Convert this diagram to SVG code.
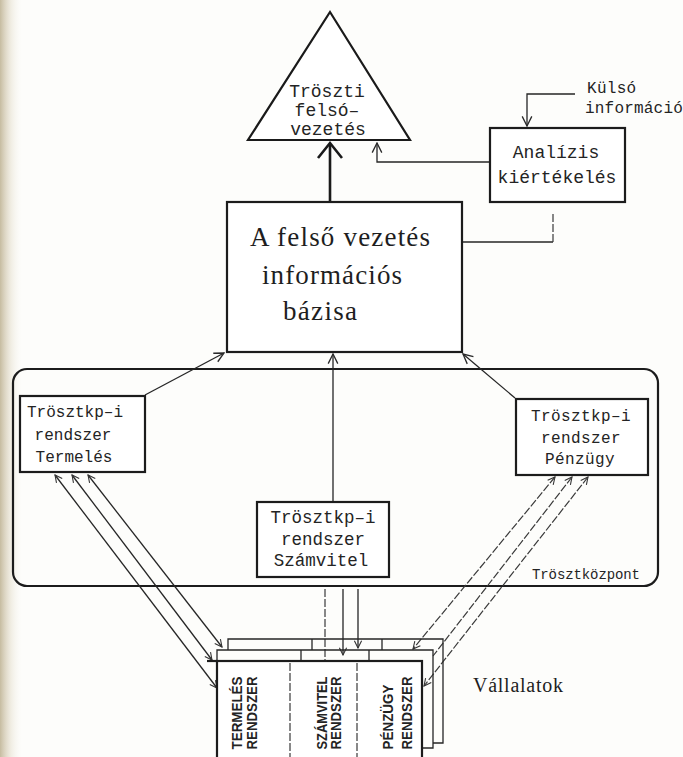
<svg xmlns="http://www.w3.org/2000/svg" width="683" height="757" viewBox="0 0 683 757">
  <defs>
    <linearGradient id="edge" x1="0" x2="1" y1="0" y2="0">
      <stop offset="0" stop-color="#bcb090" stop-opacity="0.85"/>
      <stop offset="0.5" stop-color="#ddd5bf" stop-opacity="0.4"/>
      <stop offset="1" stop-color="#f4f1e8" stop-opacity="0"/>
    </linearGradient>
    <!-- open chevron arrowheads -->
    <marker id="open" viewBox="0 0 10 10" refX="9" refY="5" markerWidth="12" markerHeight="12" markerUnits="userSpaceOnUse" orient="auto-start-reverse">
      <path d="M1,1 L9,5 L1,9" fill="none" stroke="#2a2a2a" stroke-width="1.1"/>
    </marker>
    <marker id="sm" viewBox="0 0 10 10" refX="9" refY="5" markerWidth="9" markerHeight="9" markerUnits="userSpaceOnUse" orient="auto-start-reverse">
      <path d="M1,1 L9,5 L1,9" fill="none" stroke="#333" stroke-width="1.2"/>
    </marker>
  </defs>
  <style>
    .box{fill:#fff;stroke:#1c1c1c;stroke-width:2.2}
    .mono{font-family:"Liberation Mono","DejaVu Sans Mono",monospace;fill:#242424}
    .serif{font-family:"Liberation Serif","DejaVu Serif",serif;fill:#1e1e1e}
    .col{font-family:"Liberation Sans",Arial,sans-serif;font-weight:bold;fill:#232323;font-size:15.5px}
    .ln{fill:none;stroke:#262626;stroke-width:1.3}
    .dash{fill:none;stroke:#3a3a3a;stroke-width:1.2;stroke-dasharray:8 2}
    .mid{text-anchor:middle}
  </style>

  <!-- paper -->
  <rect width="683" height="757" fill="#fdfdfb"/>
  <rect width="22" height="757" fill="url(#edge)"/>

  <!-- Trösztközpont container -->
  <g id="trosztkozpont">
    <rect x="13" y="369" width="645" height="217" rx="14" fill="none" stroke="#1c1c1c" stroke-width="2.2"/>
    <text class="mono" x="532" y="579" font-size="14" textLength="108">Trösztközpont</text>
  </g>

  <!-- connectors -->
  <g id="connectors">
    <!-- information base up to top management -->
    <line x1="330" y1="202" x2="330" y2="145" stroke="#1a1a1a" stroke-width="2.6"/>
    <polyline points="318,158 330,143 342,158" fill="none" stroke="#1a1a1a" stroke-width="2.6"/>
    <!-- analysis to top management -->
    <polyline class="ln" points="490,162 377,162 377,143" marker-end="url(#open)"/>
    <!-- external information into analysis -->
    <polyline class="ln" points="575,94 527,94 527,126" marker-end="url(#open)"/>
    <!-- information base to analysis -->
    <polyline class="ln" points="462,242 553,242"/>
    <line class="dash" x1="553" y1="242" x2="553" y2="212"/>
    <!-- subsystems up to the information base -->
    <line class="ln" x1="145" y1="395" x2="224" y2="353" marker-end="url(#open)"/>
    <line class="ln" x1="333" y1="502" x2="333" y2="354" marker-end="url(#open)"/>
    <line class="ln" x1="515" y1="398" x2="463" y2="354" marker-end="url(#open)"/>
    <!-- enterprises to Termelés -->
    <line class="ln" x1="88" y1="475" x2="222" y2="647" marker-start="url(#sm)" marker-end="url(#sm)"/>
    <line class="ln" x1="72" y1="475" x2="212" y2="660" marker-start="url(#sm)" marker-end="url(#sm)"/>
    <line class="ln" x1="55" y1="475" x2="217" y2="688" marker-start="url(#sm)" marker-end="url(#sm)"/>
    <!-- enterprises to Számvitel -->
    <line class="dash" x1="325" y1="589" x2="325" y2="663"/>
    <line class="ln" x1="343" y1="589" x2="343" y2="655" marker-end="url(#sm)"/>
    <line class="ln" x1="358" y1="589" x2="358" y2="648" marker-end="url(#sm)"/>
    <!-- enterprises to Pénzügy -->
    <line class="dash" x1="555" y1="477" x2="413" y2="649" marker-start="url(#sm)" marker-end="url(#sm)"/>
    <line class="dash" x1="572" y1="477" x2="433" y2="656" marker-start="url(#sm)"/>
    <line class="dash" x1="588" y1="477" x2="424" y2="686" marker-start="url(#sm)" marker-end="url(#sm)"/>
  </g>

  <!-- top management triangle -->
  <g id="top-management">
    <polygon points="330,12 410,140 248,140" fill="#fff" stroke="#1a1a1a" stroke-width="2.2"/>
    <text class="mono mid" x="327" y="97" font-size="18">Tröszti</text>
    <text class="mono mid" x="327" y="116" font-size="18">felsó–</text>
    <text class="mono mid" x="328" y="135" font-size="18">vezetés</text>
  </g>

  <!-- external information label -->
  <g id="external-info">
    <text class="mono" x="587" y="93" font-size="16" letter-spacing="0.3">Külsó</text>
    <text class="mono" x="585" y="113" font-size="16" letter-spacing="0.2">információ</text>
  </g>

  <!-- analysis box -->
  <g id="analysis">
    <rect class="box" x="490" y="128" width="135" height="74"/>
    <text class="mono mid" x="556" y="158" font-size="18">Analízis</text>
    <text class="mono mid" x="557" y="183" font-size="18">kiértékelés</text>
  </g>

  <!-- information base -->
  <g id="information-base">
    <rect class="box" x="227" y="202" width="235" height="150"/>
    <text class="serif" x="250" y="246" font-size="27" textLength="180">A felső vezetés</text>
    <text class="serif" x="262" y="284" font-size="27" textLength="140">információs</text>
    <text class="serif" x="283" y="320" font-size="27" textLength="74">bázisa</text>
  </g>

  <!-- Trösztkp-i rendszer: Termelés -->
  <g id="termeles">
    <rect class="box" x="20" y="396" width="125" height="76"/>
    <text class="mono mid" x="75" y="417" font-size="16">Trösztkp–i</text>
    <text class="mono mid" x="73" y="440" font-size="16">rendszer</text>
    <text class="mono mid" x="74" y="462" font-size="16">Termelés</text>
  </g>

  <!-- Trösztkp-i rendszer: Számvitel -->
  <g id="szamvitel">
    <rect class="box" x="257" y="502" width="132" height="75"/>
    <text class="mono mid" x="323" y="523" font-size="17.5">Trösztkp–i</text>
    <text class="mono mid" x="323" y="545" font-size="17.5">rendszer</text>
    <text class="mono mid" x="321" y="566" font-size="17.5">Számvitel</text>
  </g>

  <!-- Trösztkp-i rendszer: Pénzügy -->
  <g id="penzugy">
    <rect class="box" x="516" y="399" width="132" height="76"/>
    <text class="mono mid" x="581" y="421" font-size="16" fill="#3c3c3c" letter-spacing="0.4">Trösztkp–i</text>
    <text class="mono mid" x="581" y="443" font-size="16" fill="#3c3c3c" letter-spacing="0.4">rendszer</text>
    <text class="mono mid" x="580" y="464" font-size="16" fill="#3c3c3c" letter-spacing="0.4">Pénzügy</text>
  </g>

  <!-- enterprises: stacked sheets -->
  <g id="vallalatok">
    <!-- rear sheet -->
    <polyline class="ln" points="228,650 228,639 443,639 443,743 433,743"/>
    <line class="ln" x1="312" y1="639" x2="312" y2="650"/>
    <line class="ln" x1="382" y1="639" x2="382" y2="650"/>
    <!-- middle sheet -->
    <polyline class="ln" points="217,661 217,650 433,650 433,748 422,748"/>
    <line class="ln" x1="301" y1="650" x2="301" y2="661"/>
    <line class="ln" x1="369" y1="650" x2="369" y2="661"/>
    <!-- front sheet -->
    <rect x="217" y="661" width="205" height="110" fill="#fff" stroke="#1c1c1c" stroke-width="2.2"/>
    <line x1="207" y1="661" x2="217" y2="661" stroke="#1c1c1c" stroke-width="2.2"/>
    <line class="dash" x1="290" y1="663" x2="290" y2="757"/>
    <line class="dash" x1="357" y1="663" x2="357" y2="757"/>
    <text class="col mid" transform="translate(242,713) rotate(-90)" textLength="73" lengthAdjust="spacingAndGlyphs">TERMELÉS</text>
    <text class="col mid" transform="translate(257,713) rotate(-90)" textLength="73" lengthAdjust="spacingAndGlyphs">RENDSZER</text>
    <text class="col mid" transform="translate(327,713) rotate(-90)" textLength="73" lengthAdjust="spacingAndGlyphs">SZÁMVITEL</text>
    <text class="col mid" transform="translate(341,713) rotate(-90)" textLength="73" lengthAdjust="spacingAndGlyphs">RENDSZER</text>
    <text class="col mid" transform="translate(393,717) rotate(-90)" textLength="65" lengthAdjust="spacingAndGlyphs">PÉNZÜGY</text>
    <text class="col mid" transform="translate(412,713) rotate(-90)" textLength="73" lengthAdjust="spacingAndGlyphs">RENDSZER</text>
    <text class="serif" x="473" y="692" font-size="20" textLength="90">Vállalatok</text>
  </g>
</svg>
